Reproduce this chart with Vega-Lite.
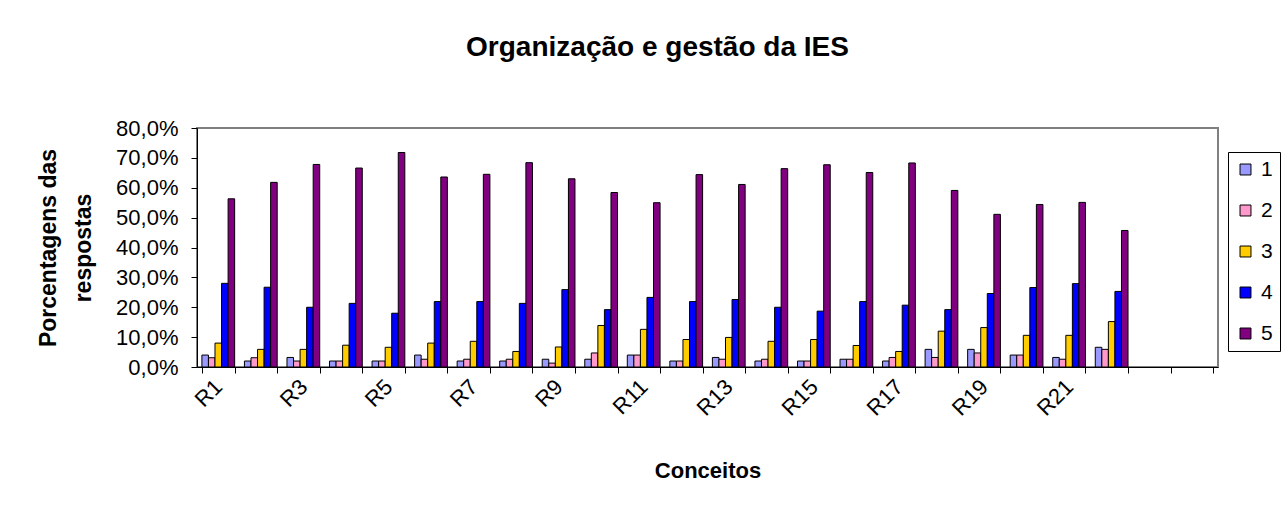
{
  "$schema": "https://vega.github.io/schema/vega-lite/v6.json",
  "width": 1021,
  "height": 239,
  "autosize": {"type": "none"},
  "padding": {"left": 197, "top": 128, "right": 70, "bottom": 144},
  "background": "white",
  "title": {
    "text": "Organização e gestão da IES",
    "font": "Liberation Sans",
    "fontSize": 28,
    "fontWeight": "bold",
    "color": "black",
    "anchor": "middle",
    "frame": "group",
    "offset": 55,
    "dx": -50
  },
  "config": {
    "view": {"stroke": "#808080", "strokeWidth": 2},
    "font": "Liberation Sans"
  },
  "data": {
    "values": [
      {"r": "R1", "s": "1", "v": 4.0}, {"r": "R1", "s": "2", "v": 3.1}, {"r": "R1", "s": "3", "v": 8.0}, {"r": "R1", "s": "4", "v": 28.0}, {"r": "R1", "s": "5", "v": 56.3},
      {"r": "R2", "s": "1", "v": 2.0}, {"r": "R2", "s": "2", "v": 3.1}, {"r": "R2", "s": "3", "v": 5.9}, {"r": "R2", "s": "4", "v": 26.7}, {"r": "R2", "s": "5", "v": 61.8},
      {"r": "R3", "s": "1", "v": 3.2}, {"r": "R3", "s": "2", "v": 2.0}, {"r": "R3", "s": "3", "v": 5.9}, {"r": "R3", "s": "4", "v": 20.0}, {"r": "R3", "s": "5", "v": 67.8},
      {"r": "R4", "s": "1", "v": 2.0}, {"r": "R4", "s": "2", "v": 2.0}, {"r": "R4", "s": "3", "v": 7.3}, {"r": "R4", "s": "4", "v": 21.3}, {"r": "R4", "s": "5", "v": 66.6},
      {"r": "R5", "s": "1", "v": 2.0}, {"r": "R5", "s": "2", "v": 2.0}, {"r": "R5", "s": "3", "v": 6.6}, {"r": "R5", "s": "4", "v": 18.0}, {"r": "R5", "s": "5", "v": 71.8},
      {"r": "R6", "s": "1", "v": 4.0}, {"r": "R6", "s": "2", "v": 2.6}, {"r": "R6", "s": "3", "v": 8.0}, {"r": "R6", "s": "4", "v": 21.9}, {"r": "R6", "s": "5", "v": 63.6},
      {"r": "R7", "s": "1", "v": 2.0}, {"r": "R7", "s": "2", "v": 2.6}, {"r": "R7", "s": "3", "v": 8.6}, {"r": "R7", "s": "4", "v": 21.9}, {"r": "R7", "s": "5", "v": 64.5},
      {"r": "R8", "s": "1", "v": 2.0}, {"r": "R8", "s": "2", "v": 2.6}, {"r": "R8", "s": "3", "v": 5.2}, {"r": "R8", "s": "4", "v": 21.3}, {"r": "R8", "s": "5", "v": 68.4},
      {"r": "R9", "s": "1", "v": 2.6}, {"r": "R9", "s": "2", "v": 1.3}, {"r": "R9", "s": "3", "v": 6.7}, {"r": "R9", "s": "4", "v": 25.9}, {"r": "R9", "s": "5", "v": 63.0},
      {"r": "R10", "s": "1", "v": 2.6}, {"r": "R10", "s": "2", "v": 4.7}, {"r": "R10", "s": "3", "v": 13.9}, {"r": "R10", "s": "4", "v": 19.2}, {"r": "R10", "s": "5", "v": 58.4},
      {"r": "R11", "s": "1", "v": 4.0}, {"r": "R11", "s": "2", "v": 4.0}, {"r": "R11", "s": "3", "v": 12.6}, {"r": "R11", "s": "4", "v": 23.3}, {"r": "R11", "s": "5", "v": 55.0},
      {"r": "R12", "s": "1", "v": 2.0}, {"r": "R12", "s": "2", "v": 2.0}, {"r": "R12", "s": "3", "v": 9.2}, {"r": "R12", "s": "4", "v": 21.9}, {"r": "R12", "s": "5", "v": 64.4},
      {"r": "R13", "s": "1", "v": 3.2}, {"r": "R13", "s": "2", "v": 2.6}, {"r": "R13", "s": "3", "v": 9.9}, {"r": "R13", "s": "4", "v": 22.6}, {"r": "R13", "s": "5", "v": 61.1},
      {"r": "R14", "s": "1", "v": 2.0}, {"r": "R14", "s": "2", "v": 2.6}, {"r": "R14", "s": "3", "v": 8.6}, {"r": "R14", "s": "4", "v": 20.0}, {"r": "R14", "s": "5", "v": 66.4},
      {"r": "R15", "s": "1", "v": 2.0}, {"r": "R15", "s": "2", "v": 2.0}, {"r": "R15", "s": "3", "v": 9.2}, {"r": "R15", "s": "4", "v": 18.7}, {"r": "R15", "s": "5", "v": 67.7},
      {"r": "R16", "s": "1", "v": 2.6}, {"r": "R16", "s": "2", "v": 2.6}, {"r": "R16", "s": "3", "v": 7.2}, {"r": "R16", "s": "4", "v": 21.9}, {"r": "R16", "s": "5", "v": 65.1},
      {"r": "R17", "s": "1", "v": 2.0}, {"r": "R17", "s": "2", "v": 3.2}, {"r": "R17", "s": "3", "v": 5.2}, {"r": "R17", "s": "4", "v": 20.7}, {"r": "R17", "s": "5", "v": 68.3},
      {"r": "R18", "s": "1", "v": 5.9}, {"r": "R18", "s": "2", "v": 3.2}, {"r": "R18", "s": "3", "v": 12.0}, {"r": "R18", "s": "4", "v": 19.2}, {"r": "R18", "s": "5", "v": 59.1},
      {"r": "R19", "s": "1", "v": 5.9}, {"r": "R19", "s": "2", "v": 4.7}, {"r": "R19", "s": "3", "v": 13.2}, {"r": "R19", "s": "4", "v": 24.6}, {"r": "R19", "s": "5", "v": 51.1},
      {"r": "R20", "s": "1", "v": 4.0}, {"r": "R20", "s": "2", "v": 4.0}, {"r": "R20", "s": "3", "v": 10.6}, {"r": "R20", "s": "4", "v": 26.6}, {"r": "R20", "s": "5", "v": 54.4},
      {"r": "R21", "s": "1", "v": 3.2}, {"r": "R21", "s": "2", "v": 2.6}, {"r": "R21", "s": "3", "v": 10.6}, {"r": "R21", "s": "4", "v": 27.9}, {"r": "R21", "s": "5", "v": 55.1},
      {"r": "R22", "s": "1", "v": 6.6}, {"r": "R22", "s": "2", "v": 5.9}, {"r": "R22", "s": "3", "v": 15.2}, {"r": "R22", "s": "4", "v": 25.3}, {"r": "R22", "s": "5", "v": 45.7}
    ]
  },
  "mark": {"type": "bar", "stroke": "black", "strokeWidth": 1},
  "encoding": {
    "x": {
      "field": "r",
      "type": "nominal",
      "sort": null,
      "scale": {
        "domain": ["R1","R2","R3","R4","R5","R6","R7","R8","R9","R10","R11","R12","R13","R14","R15","R16","R17","R18","R19","R20","R21","R22","R23","R24"],
        "paddingInner": 0.23,
        "paddingOuter": 0.115
      },
      "axis": {
        "title": "Conceitos",
        "titleFontSize": 22,
        "titleFontWeight": "bold",
        "titleColor": "black",
        "titleY": 103,
        "titleBaseline": "middle",
        "labelAngle": -45,
        "labelAlign": "right",
        "labelBaseline": "middle",
        "labelFontSize": 22,
        "labelColor": "black",
        "labelPadding": 10,
        "labelOverlap": false,
        "labelExpr": "indexof(['R1','R3','R5','R7','R9','R11','R13','R15','R17','R19','R21'], datum.value) >= 0 ? datum.value : ''",
        "tickBand": "extent",
        "tickSize": 6,
        "tickColor": "black",
        "domainColor": "black",
        "grid": false
      }
    },
    "xOffset": {
      "field": "s",
      "type": "nominal",
      "scale": {"paddingInner": 0, "paddingOuter": 0}
    },
    "y": {
      "field": "v",
      "type": "quantitative",
      "scale": {"domain": [0, 80], "nice": false},
      "axis": {
        "values": [0, 10, 20, 30, 40, 50, 60, 70, 80],
        "labelExpr": "replace(format(datum.value, '.1f'), '.', ',') + '%'",
        "labelFontSize": 22,
        "labelColor": "black",
        "labelPadding": 13,
        "tickSize": 6,
        "tickColor": "black",
        "domainColor": "black",
        "grid": false,
        "title": ["Porcentagens das", "respostas"],
        "titleFontSize": 23,
        "titleFontWeight": "bold",
        "titleColor": "black",
        "titleLineHeight": 35,
        "titleX": -149,
        "titleY": 119.5,
        "titleAngle": -90,
        "titleAlign": "center",
        "titleBaseline": "middle"
      }
    },
    "color": {
      "field": "s",
      "type": "nominal",
      "scale": {
        "domain": ["1", "2", "3", "4", "5"],
        "range": ["#9999FF", "#FF99CC", "#FFCC00", "#0000FF", "#800080"]
      },
      "legend": {
        "title": null,
        "orient": "none",
        "legendX": 1031,
        "legendY": 24,
        "direction": "vertical",
        "strokeColor": "black",
        "fillColor": "white",
        "padding": 7,
        "symbolType": "square",
        "symbolSize": 120,
        "symbolStrokeColor": "black",
        "symbolStrokeWidth": 1,
        "symbolOpacity": 1,
        "labelFontSize": 21,
        "labelColor": "black",
        "labelOffset": 5,
        "rowPadding": 19,
        "labelExpr": "datum.label + '          '"
      }
    }
  }
}
